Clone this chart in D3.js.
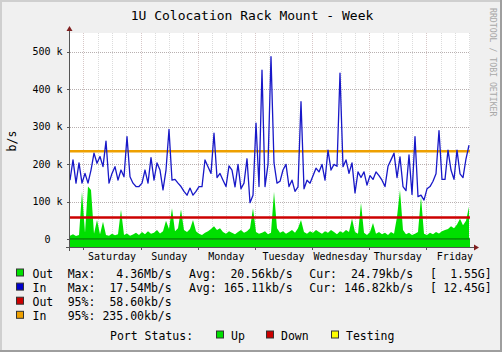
<!DOCTYPE html>
<html><head><meta charset="utf-8">
<script src="https://cdn.jsdelivr.net/npm/d3@7"></script>
<style>
html,body{margin:0;padding:0;background:#fff}
svg{display:block}
text{font-family:"DejaVu Sans Mono",monospace;white-space:pre}
</style>
</head><body>
<svg id="c" width="502" height="352"></svg>
<script>
// ---- data (kb/s) ----
const inValues = [
158,212,150,204,150,176,150,185,230,203,
221,194,262,150,176,194,158,185,167,274,
167,150,141,141,150,185,150,218,158,204,
185,132,185,293,158,160,150,141,128,118,
137,118,128,141,141,212,194,176,283,165,
176,158,141,196,185,140,200,135,150,215,
98,118,310,141,451,141,200,487,204,150,
155,185,200,141,158,128,140,367,135,158,
150,170,190,180,200,158,238,185,200,195,
443,194,212,176,204,124,180,165,180,145,
170,160,180,170,158,141,195,212,230,165,
220,141,130,225,120,274,114,118,105,135,
141,155,175,290,160,160,238,185,160,238,
175,165,215,251];
const outValues = [
10,14,9,12,127,18,141,132,15,52,
14,47,12,10,15,11,14,79,12,16,
10,13,18,12,20,14,22,15,18,25,
16,22,50,28,83,22,30,80,25,20,
28,52,22,15,12,18,22,28,35,25,
30,20,15,22,18,14,20,25,18,22,
30,83,20,15,18,22,14,18,127,30,
18,22,15,20,25,18,30,52,20,15,
22,18,25,20,15,22,18,25,20,14,
22,18,25,20,56,20,15,97,18,12,
20,44,15,20,14,18,12,20,15,60,
132,25,14,18,12,15,20,114,15,12,
18,14,20,16,22,25,28,35,30,40,
55,38,50,87];
const pct95Out = 58.6;
const pct95In = 235.0;
const yTicks = [0, 100, 200, 300, 400, 500];
const yTickLabels = ["0", "100 k", "200 k", "300 k", "400 k", "500 k"];
const dayLabels = ["Saturday", "Sunday", "Monday", "Tuesday", "Wednesday", "Thursday", "Friday"];
const legendRows = [
  {name: "Out", color: "#00E000", cells: ["Max:", "4.36Mb/s", "Avg:", "20.56kb/s", "Cur:", "24.79kb/s", "[", "1.55G]"]},
  {name: "In",  color: "#0000CC", cells: ["Max:", "17.54Mb/s", "Avg:", "165.11kb/s", "Cur:", "146.82kb/s", "[", "12.45G]"]},
  {name: "Out", color: "#CC0000", cells: ["95%:", "58.60kb/s"]},
  {name: "In",  color: "#EEA000", cells: ["95%:", "235.00kb/s"]}
];
const statusItems = [
  {label: "Up", color: "#00E000"},
  {label: "Down", color: "#CC0000"},
  {label: "Testing", color: "#FFFF00"}
];

// ---- layout ----
const W = 502, H = 352;
const svg = d3.select("#c");
const plotL = 70, plotR = 470, plotT = 33, plotB = 247;

const start = new Date(2010, 0, 1, 18, 20);
const end = d3.timeDay.offset(start, 7);
const x = d3.scaleTime().domain([start, end]).range([plotL, plotR]);
const stepMs = (end - start) * 3 / 400;
const tAt = i => new Date(+start + i * stepMs);
const y = d3.scaleLinear().domain([-20, 550]).range([plotB, plotT]);

// background + 3D border
svg.append("rect").attr("width", W).attr("height", H).attr("fill", "#F0F0F0");
svg.append("path").attr("d", `M0,${H} V0 H${W}`).attr("fill", "none").attr("stroke", "#CFCFCF").attr("stroke-width", 4);
svg.append("path").attr("d", `M0,${H} H${W} V0`).attr("fill", "none").attr("stroke", "#9E9E9E").attr("stroke-width", 4);

// canvas
svg.append("rect").attr("x", plotL).attr("y", plotT).attr("width", plotR - plotL).attr("height", plotB - plotT).attr("fill", "#FFFFFF");

// grid
const g = svg.append("g");
const minor = d3.timeHour.every(6).range(start, end);
g.selectAll(".vg").data(minor).join("line")
  .attr("x1", d => Math.round(x(d)) + 0.5).attr("x2", d => Math.round(x(d)) + 0.5)
  .attr("y1", plotT).attr("y2", plotB)
  .attr("stroke", d => d.getHours() === 0 ? "#D8C8C8" : "#DCDCDC")
  .attr("stroke-dasharray", "1,1");
g.selectAll(".hg").data(yTicks.filter(v => v > 0)).join("line")
  .attr("x1", plotL).attr("x2", plotR)
  .attr("y1", d => Math.round(y(d)) + 0.5).attr("y2", d => Math.round(y(d)) + 0.5)
  .attr("stroke", "#B8B0B0").attr("stroke-dasharray", "1,1");

// port status band
svg.append("rect").attr("x", plotL).attr("y", y(0)).attr("width", plotR - plotL).attr("height", y(-20) - y(0)).attr("fill", "#00E000");

// Out area
const area = d3.area().x((d, i) => x(tAt(i))).y0(y(0)).y1(d => y(d));
svg.append("path").datum(outValues).attr("d", area).attr("fill", "#00E000");
svg.append("line").attr("x1", plotL).attr("x2", plotR).attr("y1", y(0) - 0.5).attr("y2", y(0) - 0.5)
  .attr("stroke", "#008800").attr("stroke-width", 1.3);

// 95% lines
svg.append("line").attr("x1", plotL).attr("x2", plotR).attr("y1", y(pct95Out)).attr("y2", y(pct95Out))
  .attr("stroke", "#CC0000").attr("stroke-width", 2.5);
svg.append("line").attr("x1", plotL).attr("x2", plotR).attr("y1", y(pct95In)).attr("y2", y(pct95In))
  .attr("stroke", "#EEA000").attr("stroke-width", 2.5);

// In line
const line = d3.line().x((d, i) => x(tAt(i))).y(d => y(d));
svg.append("path").datum(inValues).attr("d", line).attr("fill", "none")
  .attr("stroke", "#1818C8").attr("stroke-width", 1.3).attr("stroke-linejoin", "round");

// axes
svg.append("line").attr("x1", plotL - 0.5).attr("x2", plotL - 0.5).attr("y1", plotB + 4).attr("y2", plotT - 2).attr("stroke", "#555");
svg.append("line").attr("x1", plotL - 4).attr("x2", plotR + 4).attr("y1", plotB + 0.5).attr("y2", plotB + 0.5).attr("stroke", "#555");
svg.append("path").attr("d", `M${plotL - 3.5},${plotT - 2} L${plotL - 0.5},${plotT - 7} L${plotL + 2.5},${plotT - 2} Z`).attr("fill", "#802020");
svg.append("path").attr("d", `M${plotR + 4},${plotB - 2.5} L${plotR + 9},${plotB + 0.5} L${plotR + 4},${plotB + 3.5} Z`).attr("fill", "#802020");

// y ticks + labels
svg.selectAll(".yt").data(yTicks).join("line")
  .attr("x1", plotL - 3).attr("x2", plotL).attr("y1", d => Math.round(y(d)) + 0.5).attr("y2", d => Math.round(y(d)) + 0.5)
  .attr("stroke", "#555");
svg.selectAll(".yl").data(yTicks).join("text")
  .attr("x", (d, i) => yTickLabels[i].indexOf(" ") < 0 ? 50.5 : 62.5)
  .attr("y", d => y(d) + 3.5)
  .attr("text-anchor", "end").attr("font-size", 10).attr("fill", "#000")
  .text((d, i) => yTickLabels[i]);

// x ticks + day labels
const daysStart = d3.timeDay.range(start, end);
svg.selectAll(".xt").data(daysStart).join("line")
  .attr("x1", d => Math.round(x(d)) + 0.5).attr("x2", d => Math.round(x(d)) + 0.5)
  .attr("y1", plotB).attr("y2", plotB + 3).attr("stroke", "#555");
svg.selectAll(".xl").data(daysStart).join("text")
  .attr("x", d => x(d3.timeHour.offset(d, 12)))
  .attr("y", 259.5).attr("text-anchor", "middle").attr("font-size", 10).attr("fill", "#000")
  .text((d, i) => dayLabels[i]);

// title
svg.append("text").attr("x", 252).attr("y", 20).attr("text-anchor", "middle").attr("font-size", 13).attr("fill", "#000")
  .text("1U Colocation Rack Mount - Week");

// y unit
svg.append("text").attr("transform", "translate(16,141) rotate(-90)").attr("text-anchor", "middle")
  .attr("font-size", 11.5).attr("fill", "#000").text("b/s");

// watermark
svg.append("text").attr("transform", "translate(490,8) rotate(90)").attr("font-size", 8.2).attr("fill", "#A8A8A8")
  .text("RRDTOOL / TOBI OETIKER");

// legend
const fs = 11.5;
const rowY = [277.5, 291.6, 305.7, 319.8];
const cellPos = [
  {x: 67.7, a: "start"}, {x: 171.7, a: "end"}, {x: 189, a: "start"}, {x: 292.7, a: "end"},
  {x: 309.3, a: "start"}, {x: 413.3, a: "end"}, {x: 430, a: "start"}, {x: 491.7, a: "end"}
];
legendRows.forEach((r, ri) => {
  const yy = rowY[ri];
  svg.append("rect").attr("x", 16.5).attr("y", yy - 8.5).attr("width", 7).attr("height", 7)
    .attr("fill", r.color).attr("stroke", "#333").attr("stroke-width", 1);
  svg.append("text").attr("x", 32.5).attr("y", yy).attr("font-size", fs).attr("fill", "#000").text(r.name);
  r.cells.forEach((c, ci) => {
    svg.append("text").attr("x", cellPos[ci].x).attr("y", yy).attr("text-anchor", cellPos[ci].a)
      .attr("font-size", fs).attr("fill", "#000").text(c);
  });
});
const sy = 339.5;
svg.append("text").attr("x", 110).attr("y", sy).attr("font-size", fs).attr("fill", "#000").text("Port Status:");
const statusX = [216.5, 266.5, 331.5];
statusItems.forEach((s, i) => {
  svg.append("rect").attr("x", statusX[i]).attr("y", sy - 8.5).attr("width", 7).attr("height", 7)
    .attr("fill", s.color).attr("stroke", "#333").attr("stroke-width", 1);
  svg.append("text").attr("x", statusX[i] + 14.5).attr("y", sy).attr("font-size", fs).attr("fill", "#000").text(s.label);
});
</script>
</body></html>
